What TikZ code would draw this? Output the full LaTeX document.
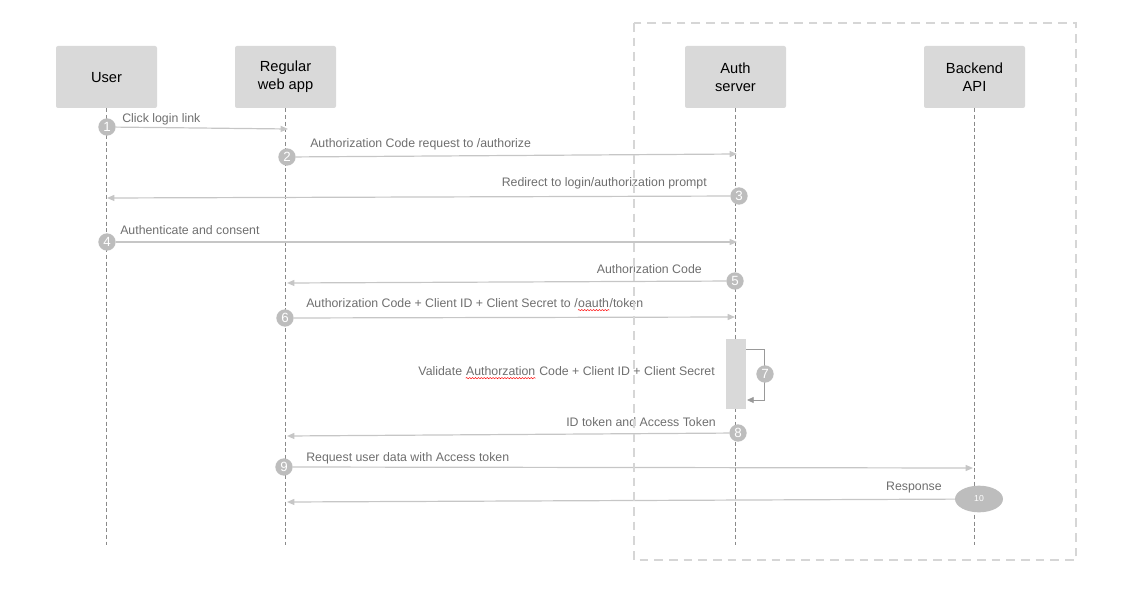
\documentclass[tikz,border=0pt]{standalone}
\usepackage{fontspec}
\setmainfont{Liberation Sans}
\usepackage{tikz}
\usetikzlibrary{arrows.meta,shapes.geometric,decorations.pathmorphing}

\definecolor{boxgray}{HTML}{D9D9D9}
\definecolor{linegray}{HTML}{C6C6C6}
\definecolor{dotgray}{HTML}{BDBDBD}
\definecolor{textgray}{HTML}{6E6E6E}
\definecolor{lifegray}{HTML}{8A8A8A}
\definecolor{framegray}{HTML}{D6D6D6}

% red spell-check squiggle under a word
\newcommand\spellwave[1]{\tikz[baseline=(w.base)]{\node[inner sep=0pt] (w) {#1};
  \draw[red, line width=0.35pt, decorate, decoration={snake, amplitude=0.45pt, segment length=2.2pt}]
    ([yshift=-1.6pt]w.base west) -- ([yshift=-1.6pt]w.base east);}}

\tikzset{
  actor/.style={fill=boxgray, rounded corners=1.5pt, minimum width=75.75pt,
    minimum height=46.5pt, align=center, font=\fontsize{11}{13.5}\selectfont},
  life/.style={draw=lifegray, line width=0.5pt, dash pattern=on 3pt off 2pt},
  stepdot/.style={circle, fill=dotgray, text=white, inner sep=0pt,
    minimum size=13pt, font=\fontsize{10}{10}\selectfont},
  msg/.style={draw=linegray, line width=0.9pt,
    -{Triangle[length=5.5pt,width=4.5pt]}},
  lbl/.style={text=textgray, inner sep=0pt, font=\fontsize{9.25}{10.5}\selectfont}
}

\begin{document}
\begin{tikzpicture}[x=0.75pt, y=-0.75pt]
  \useasboundingbox (0,0) rectangle (1126,609);

  \node[actor, text depth=-1.5pt] (user) at (106.5,77) {User};
  \node[actor] (app)  at (285.5,77) {Regular\\web app};
  \node[actor] (auth) at (735.5,77) {Auth\\server};
  \node[actor] (api)  at (974.5,77) {Backend\\API};

  \coordinate (bottom) at (0,545);
  \foreach \p in {user,app,auth,api}{
    \draw[life] (\p.south) -- (\p.south |- bottom);
  }

  % activation on the auth server
  \fill[boxgray] (726,339) rectangle (746,409);

  \node[stepdot] (n1) at (107,127) {1};
  \node[stepdot] (n2) at (287,157) {2};
  \node[stepdot] (n3) at (739,196) {3};
  \node[stepdot] (n4) at (107,242) {4};
  \node[stepdot] (n5) at (735,281) {5};
  \node[stepdot] (n6) at (285,318) {6};
  \node[stepdot] (n8) at (738,433) {8};
  \node[stepdot] (n9) at (284,467) {9};
  \node[ellipse, fill=dotgray, text=white, inner sep=0pt, minimum width=36pt,
    minimum height=20pt, font=\fontsize{6.5}{7}\selectfont] (n10) at (979,499) {10};

  \coordinate (e1) at (288,129);
  \coordinate (e2) at (737,154);
  \coordinate (e3) at (107,198);
  \coordinate (e4) at (737,242);
  \coordinate (e5) at (287,283);
  \coordinate (e6) at (735,317);
  \coordinate (e8) at (287,436);
  \coordinate (e9) at (973,468);
  \coordinate (e10) at (287,502);

  \draw[msg] (n1) -- (e1);
  \draw[msg] (n2) -- (e2);
  \draw[msg] (n3) -- (e3);
  \draw[msg] (n4) -- (e4);
  \draw[msg] (n5) -- (e5);
  \draw[msg] (n6) -- (e6);
  \draw[msg] (n8) -- (e8);
  \draw[msg] (n9) -- (e9);
  \draw[msg] (n10) -- (e10);

  % self call
  \coordinate (s1) at (746,349);
  \coordinate (s2) at (747,400);
  \draw[draw=gray!80, line width=0.6pt, -{Triangle[length=5pt,width=4.5pt]}]
    (s1) -- (764,349) -- (764,400) -- (s2);
  \node[stepdot] (n7) at (765,374) {7};

  \node[lbl, anchor=west] (l1) at (122,119) {Click login link};
  \node[lbl, anchor=west] (l2) at (310,144) {Authorization Code request to /authorize};
  \node[lbl, anchor=east] (l3) at (707,183) {Redirect to login/authorization prompt};
  \node[lbl, anchor=west] (l4) at (120,230) {Authenticate and consent};
  \node[lbl, anchor=east] (l5) at (702,269) {Authorization Code};
  \node[lbl, anchor=west] (l6) at (306,305) {Authorization Code + Client ID + Client Secret to /\spellwave{oauth}/token};
  \node[lbl, anchor=east] (l7) at (715,373) {Validate \spellwave{Authorzation} Code + Client ID + Client Secret};
  \node[lbl, anchor=east] (l8) at (716,422) {ID token and Access Token};
  \node[lbl, anchor=west] (l9) at (306,458) {Request user data with Access token};
  \node[lbl, anchor=east] (l10) at (942,488) {Response};

  % backend boundary
  \draw[framegray, line width=1.5pt, dash pattern=on 6.5pt off 4.5pt]
    (634,23) rectangle (1076,560);
\end{tikzpicture}
\end{document}
